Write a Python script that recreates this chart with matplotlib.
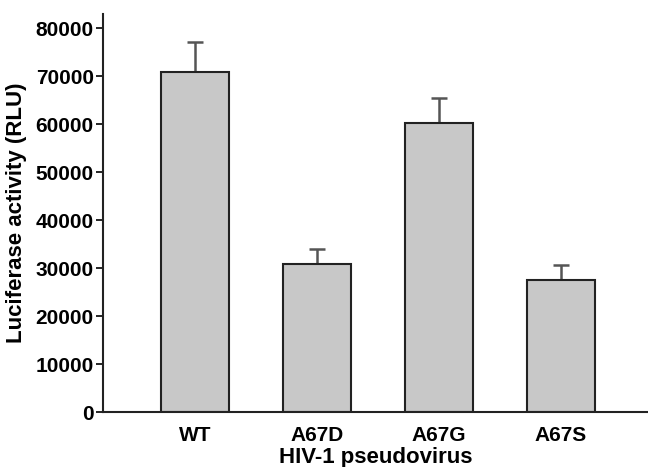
import matplotlib
matplotlib.use("Agg")
import matplotlib.pyplot as plt

plt.rcParams['font.family'] = ['Liberation Sans', 'DejaVu Sans']
plt.rcParams['font.weight'] = 'bold'

categories = ["WT", "A67D", "A67G", "A67S"]
activity = [70900, 30900, 60200, 27500]
errors = [6300, 3100, 5400, 3300]
yticks = [0, 10000, 20000, 30000, 40000, 50000, 60000, 70000, 80000]


def plot(ax):
    x = range(len(categories))
    ax.bar(x, activity, width=0.555, color="#c8c8c8", edgecolor="#222222",
           linewidth=1.5, zorder=2)
    ax.errorbar(x, activity, yerr=[[0] * len(errors), errors], fmt="none",
                ecolor="#555555", elinewidth=1.8, capsize=6, capthick=1.8,
                zorder=1)

    ax.set_xlim(-0.75, 3.715)
    ax.set_ylim(0, 83000)
    ax.set_yticks(yticks)
    ax.set_yticklabels([str(t) for t in yticks])
    ax.set_xticks(list(x))
    ax.set_xticklabels(categories)

    for side in ("top", "right"):
        ax.spines[side].set_visible(False)
    for side in ("left", "bottom"):
        ax.spines[side].set_linewidth(1.5)
        ax.spines[side].set_color("#222222")

    ax.tick_params(axis="y", length=5, width=1.2, labelsize=15, pad=2)
    ax.tick_params(axis="x", length=0, labelsize=15, pad=10)

    ax.set_xlabel("HIV-1 pseudovirus", fontsize=16, fontweight="bold",
                  labelpad=1)
    ax.set_ylabel("Luciferase activity (RLU)", fontsize=16,
                  fontweight="bold", labelpad=6)


def main():
    fig = plt.figure(figsize=(6.48, 4.67), dpi=100)
    ax = fig.add_axes([0.1595, 0.117, 0.8405, 0.853])
    plot(ax)
    fig.savefig("out.png", dpi=100)


if __name__ == "__main__":
    main()
